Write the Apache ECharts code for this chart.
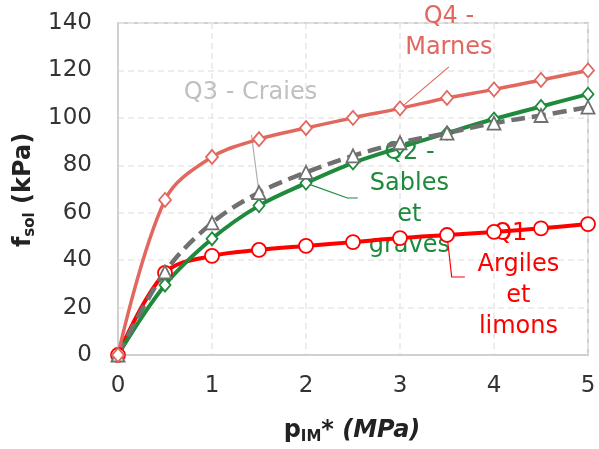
<!DOCTYPE html>
<html>
<head>
<meta charset="utf-8">
<style>
  html, body { margin: 0; padding: 0; background: #fff; }
  #chart { width: 599px; height: 449px; }
</style>
<script src="https://cdn.jsdelivr.net/npm/echarts@6/dist/echarts.min.js"></script>
</head>
<body>
<div id="chart"></div>
<script>
// Pressure values p_IM* (MPa)
const pressure = [0, 0.5, 1, 1.5, 2, 2.5, 3, 3.5, 4, 4.5, 5];

// f_sol (kPa) for each soil class
const q4Marnes = [0, 65.4, 83.5, 91, 95.7, 100, 104, 108.4, 112, 116, 120];
const q3Craies = [0, 35, 55.7, 68.5, 77, 84, 89.5, 93.6, 97.8, 101, 104.5];
const q2Sables = [0, 29.5, 49, 63, 72.5, 81, 87.5, 93.6, 99.5, 104.8, 110];
const q1Argiles = [0, 34.6, 41.8, 44.3, 46, 47.6, 49.3, 50.6, 51.9, 53.4, 55.2];

const xTicks = [0, 1, 2, 3, 4, 5];
const yTicks = [0, 20, 40, 60, 80, 100, 120, 140];

const FONT = '"DejaVu Sans", sans-serif';
const C_Q4 = '#e2675f';
const C_Q3 = '#707070';
const C_Q2 = '#1e8a3c';
const C_Q1 = '#ff0000';
const C_Q3_LABEL = '#c0c0c0';

const pairs = ys => pressure.map((x, i) => [x, ys[i]]);

const chart = echarts.init(document.getElementById('chart'), null, { renderer: 'canvas' });

const gridLine = { show: true, lineStyle: { color: '#e8e8e8', width: 1.5, type: [6, 4] } };
const axisLine = { show: true, lineStyle: { color: '#d0d0d0', width: 2 } };

function series(name, data, color, symbol, size, width, dashed) {
  return {
    name, type: 'line', data: pairs(data),
    smooth: 0.35,
    symbol, symbolSize: size,
    showSymbol: true,
    lineStyle: { color, width, type: dashed ? [14, 7] : 'solid', cap: 'butt' },
    itemStyle: { color: '#ffffff', borderColor: color, borderWidth: 1.8 },
    emphasis: { disabled: true },
    z: 3
  };
}

chart.setOption({
  animation: false,
  grid: { left: 118, right: 11, top: 23, bottom: 94, show: true, borderColor: '#d0d0d0', borderWidth: 2 },
  xAxis: {
    type: 'value', min: xTicks[0], max: xTicks[xTicks.length - 1], interval: 1,
    axisLine, axisTick: { show: false }, splitLine: gridLine,
    axisLabel: { color: '#333', fontFamily: FONT, fontSize: 23, margin: 20 }
  },
  yAxis: {
    type: 'value', min: yTicks[0], max: yTicks[yTicks.length - 1], interval: 20,
    axisLine, axisTick: { show: false }, splitLine: gridLine,
    axisLabel: { color: '#333', fontFamily: FONT, fontSize: 23, margin: 26 }
  },
  series: [
    series('Q1 - Argiles et limons', q1Argiles, C_Q1, 'circle', [14, 14], 4, false),
    series('Q2 - Sables et graves', q2Sables, C_Q2, 'diamond', [11, 13], 4, false),
    series('Q3 - Craies', q3Craies, C_Q3, 'triangle', [13, 13], 4.5, true),
    series('Q4 - Marnes', q4Marnes, C_Q4, 'diamond', [12, 14], 3.5, false)
  ]
});

// Series labels with leader lines, anchored in data coordinates
const annotations = [
  { text: 'Q4 -\nMarnes', color: C_Q4, at: [3.52, 136.3], leader: [[3.52, 121.5], [3, 104]] },
  { text: 'Q3 - Craies', color: C_Q3_LABEL, at: [1.41, 110.5], leader: [[1.42, 92.8], [1.5, 68.5]], leaderColor: '#b0b0b0' },
  { text: 'Q2 -\nSables\net\ngraves', color: C_Q2, at: [3.1, 65.8], leader: [[2, 72.5], [2.44, 66.2], [2.55, 66.2]] },
  { text: 'Q1 -\nArgiles\net\nlimons', color: C_Q1, at: [4.26, 31.6], leader: [[3.5, 50.6], [3.55, 32.9], [3.69, 32.9]] }
];

const toPx = p => chart.convertToPixel({ gridIndex: 0 }, p);

const graphics = [];
annotations.forEach(a => {
  const c = toPx(a.at);
  graphics.push({
    type: 'text', x: c[0], y: c[1], z: 1, silent: true,
    style: {
      text: a.text, fill: a.color, font: '24px ' + FONT,
      align: 'center', verticalAlign: 'middle', lineHeight: 31
    }
  });
  graphics.push({
    type: 'polyline', z: 1, silent: true,
    shape: { points: a.leader.map(toPx) },
    style: { stroke: a.leaderColor || a.color, lineWidth: 1.2, fill: null }
  });
});

// Axis titles built from pieces so the subscripts sit below the main text
const ctx = document.createElement('canvas').getContext('2d');
function measure(font, s) { ctx.font = font; return ctx.measureText(s).width; }

function titleGroup(parts, cx, cy, rotation) {
  const total = parts.reduce((w, p) => w + measure(p.font, p.text), 0);
  let x = -total / 2;
  const children = parts.map(p => {
    const el = {
      type: 'text', x, y: p.dy || 0,
      style: { text: p.text, font: p.font, fill: '#222', verticalAlign: 'middle', align: 'left' }
    };
    x += measure(p.font, p.text);
    return el;
  });
  return { type: 'group', x: cx, y: cy, rotation, children, silent: true };
}

const BIG = 'bold 24px ' + FONT;
const SUB = 'bold 15px ' + FONT;
const BIGI = 'italic bold 24px ' + FONT;

graphics.push(titleGroup([
  { text: 'f', font: BIG },
  { text: 'sol', font: SUB, dy: 6 },
  { text: ' (kPa)', font: BIG }
], 24, 190, Math.PI / 2));

graphics.push(titleGroup([
  { text: 'p', font: BIG },
  { text: 'IM', font: SUB, dy: 6 },
  { text: '* ', font: BIG },
  { text: '(MPa)', font: BIGI }
], 352, 431, 0));

chart.setOption({ graphic: graphics });
</script>
</body>
</html>
